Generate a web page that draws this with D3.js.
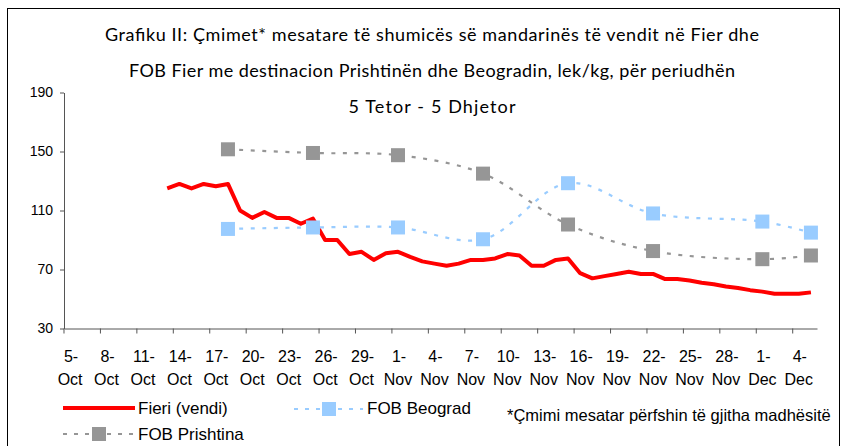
<!DOCTYPE html>
<html>
<head>
<meta charset="utf-8">
<script src="https://cdn.jsdelivr.net/npm/d3@7"></script>
<style>
  body { margin: 0; background: #fff; }
  svg { display: block; }
</style>
</head>
<body>
<div id="wrapper"></div>
<script>
// 1. Data
const titleLines = [
    "Grafiku II: Çmimet* mesatare të shumicës së mandarinës të vendit në Fier dhe",
    "FOB Fier me destinacion Prishtinën dhe Beogradin, lek/kg, për periudhën",
    "5 Tetor - 5 Dhjetor"
]
const startDate = new Date(2009, 9, 5)   // 5 Oct
const endDate = new Date(2009, 11, 6)    // through 5 Dec
const tickLabels = ["5-Oct", "8-Oct", "11-Oct", "14-Oct", "17-Oct", "20-Oct", "23-Oct",
    "26-Oct", "29-Oct", "1-Nov", "4-Nov", "7-Nov", "10-Nov", "13-Nov", "16-Nov",
    "19-Nov", "22-Nov", "25-Nov", "28-Nov", "1-Dec", "4-Dec"]
const yTicks = [30, 70, 110, 150, 190]

// Fieri (vendi): daily from 13 Oct to 5 Dec
const fieriStart = new Date(2009, 9, 13)
const fieriValues = [125, 128, 125, 128, 126.5, 128, 110, 105, 109, 105, 105, 101, 104.5,
    90, 90, 80.5, 82, 76.5, 81, 82, 78.5, 75.5, 74, 72.5, 74, 76.5, 76.5, 77.5, 80.5, 79.5,
    72.5, 72.5, 76.5, 77.5, 67.5, 64, 65.5, 67, 68.5, 67, 67, 63.5, 63.5, 62.5, 61, 60,
    58.5, 57.5, 56, 55, 53.5, 53.5, 53.5, 54.5]

const fobDates = ["2009-10-18", "2009-10-25", "2009-11-01", "2009-11-08", "2009-11-15",
    "2009-11-22", "2009-12-01", "2009-12-05"]
const beogradValues = [97.5, 98.5, 98.5, 90.5, 128.5, 108, 102.5, 95]
const prishtinaValues = [151.5, 149, 147.5, 135, 100.5, 82.5, 77, 79.5]

const footnote = "*Çmimi mesatar përfshin të gjitha madhësitë"

// 2. Dimensions
const dimensions = {
    width: 846,
    height: 446,
    plot: { left: 64, right: 817, top: 92.5, bottom: 328.5 },
}

const colors = { fieri: "#ff0000", beograd: "#99ccff", prishtina: "#969696" }
const axisFont = "'Liberation Sans', Arial, sans-serif"

// 3. Canvas
const svg = d3.select("#wrapper")
    .append("svg")
    .attr("width", dimensions.width)
    .attr("height", dimensions.height)

svg.append("rect")
    .attr("x", 7.5).attr("y", 8.5)
    .attr("width", 832).attr("height", 470)
    .attr("fill", "none").attr("stroke", "#000").attr("stroke-width", 1)

// title, spread to the widths of the original lines
const titleWidths = [654, 606, 167]
svg.append("g").selectAll("text")
    .data(titleLines)
    .join("text")
    .attr("x", 432)
    .attr("y", (d, i) => 41 + i * 36)
    .attr("text-anchor", "middle")
    .attr("textLength", (d, i) => titleWidths[i])
    .attr("lengthAdjust", "spacing")
    .style("font-family", "Lato, sans-serif")
    .style("font-size", "18px")
    .attr("fill", "#000")
    .text(d => d)

// 4. Scales
const dates = d3.timeDay.range(startDate, endDate)
const key = d => d3.timeFormat("%Y-%m-%d")(d)

const xScale = d3.scaleBand()
    .domain(dates.map(key))
    .range([dimensions.plot.left, dimensions.plot.right])
    .padding(0)
const bw = xScale.bandwidth()
const xPos = k => xScale(k) + bw / 2

const yScale = d3.scaleLinear()
    .domain([30, 190])
    .range([dimensions.plot.bottom, dimensions.plot.top])

// 5. Axes
const tickKeys = dates.filter((d, i) => i % 3 === 0).map(key)
const xAxis = svg.append("g")
    .attr("transform", `translate(0,${dimensions.plot.bottom})`)
    .call(d3.axisBottom(xScale).tickValues(tickKeys).tickSize(5).tickSizeOuter(0))
xAxis.select(".domain").attr("stroke", "#555")
xAxis.selectAll(".tick line").attr("x1", -bw / 2).attr("x2", -bw / 2).attr("stroke", "#555")
xAxis.selectAll(".tick text").each(function (d, i) {
    const parts = tickLabels[i].split("-")
    const t = d3.select(this).text(null)
        .attr("y", null)
        .attr("dy", null)
        .style("font-family", axisFont)
        .style("font-size", "16px")
        .attr("fill", "#000")
    t.append("tspan").attr("x", 1).attr("y", 33.5).text(parts[0] + "-")
    t.append("tspan").attr("x", 0).attr("y", 56.5).text(parts[1])
})

const yAxis = svg.append("g")
    .attr("transform", `translate(${dimensions.plot.left},0)`)
    .call(d3.axisLeft(yScale).tickValues(yTicks).tickSize(4).tickSizeOuter(0))
yAxis.select(".domain").attr("stroke", "#555")
yAxis.selectAll(".tick line").attr("stroke", "#555")
yAxis.selectAll(".tick text")
    .attr("x", -11)
    .style("font-family", axisFont)
    .style("font-size", "14px")
    .attr("fill", "#000")

// 6. Series
const fieriData = fieriValues.map((v, i) => ({ k: key(d3.timeDay.offset(fieriStart, i)), v }))
const beogradData = fobDates.map((k, i) => ({ k, v: beogradValues[i] }))
const prishtinaData = fobDates.map((k, i) => ({ k, v: prishtinaValues[i] }))

const straight = d3.line().x(d => xPos(d.k)).y(d => yScale(d.v))
const smooth = d3.line().x(d => xPos(d.k)).y(d => yScale(d.v)).curve(d3.curveCatmullRom.alpha(0.5))

svg.append("path")
    .datum(fieriData)
    .attr("d", straight)
    .attr("fill", "none")
    .attr("stroke", colors.fieri)
    .attr("stroke-width", 4)
    .attr("stroke-linejoin", "round")

const markerSize = 14
function drawFob(data, color) {
    svg.append("path")
        .datum(data)
        .attr("d", smooth)
        .attr("fill", "none")
        .attr("stroke", color)
        .attr("stroke-width", 2.2)
        .attr("stroke-dasharray", "4,7.5")
    svg.append("g").selectAll("rect")
        .data(data)
        .join("rect")
        .attr("x", d => xPos(d.k) - markerSize / 2)
        .attr("y", d => yScale(d.v) - markerSize / 2)
        .attr("width", markerSize)
        .attr("height", markerSize)
        .attr("fill", color)
}
drawFob(beogradData, colors.beograd)
drawFob(prishtinaData, colors.prishtina)

// 7. Legend
const legendFont = s => s.style("font-family", axisFont)
    .style("font-size", "17px").attr("fill", "#000")

const legend = svg.append("g")
legend.append("line")
    .attr("x1", 63).attr("x2", 135).attr("y1", 408).attr("y2", 408)
    .attr("stroke", colors.fieri).attr("stroke-width", 4)
legend.append("text").attr("x", 138).attr("y", 414).text("Fieri (vendi)").call(legendFont)

legend.append("line")
    .attr("x1", 294).attr("x2", 363).attr("y1", 409).attr("y2", 409)
    .attr("stroke", colors.beograd).attr("stroke-width", 2).attr("stroke-dasharray", "4,7")
legend.append("rect")
    .attr("x", 329 - markerSize / 2).attr("y", 409 - markerSize / 2)
    .attr("width", markerSize).attr("height", markerSize).attr("fill", colors.beograd)
legend.append("text").attr("x", 367).attr("y", 414).text("FOB Beograd").call(legendFont)

legend.append("line")
    .attr("x1", 63).attr("x2", 135).attr("y1", 434).attr("y2", 434)
    .attr("stroke", colors.prishtina).attr("stroke-width", 2).attr("stroke-dasharray", "4,7")
legend.append("rect")
    .attr("x", 99 - markerSize / 2).attr("y", 434 - markerSize / 2)
    .attr("width", markerSize).attr("height", markerSize).attr("fill", colors.prishtina)
legend.append("text").attr("x", 138).attr("y", 440).text("FOB Prishtina").call(legendFont)

svg.append("text").attr("x", 507).attr("y", 421).text(footnote)
    .call(legendFont).style("font-size", "16.5px")
</script>
</body>
</html>
